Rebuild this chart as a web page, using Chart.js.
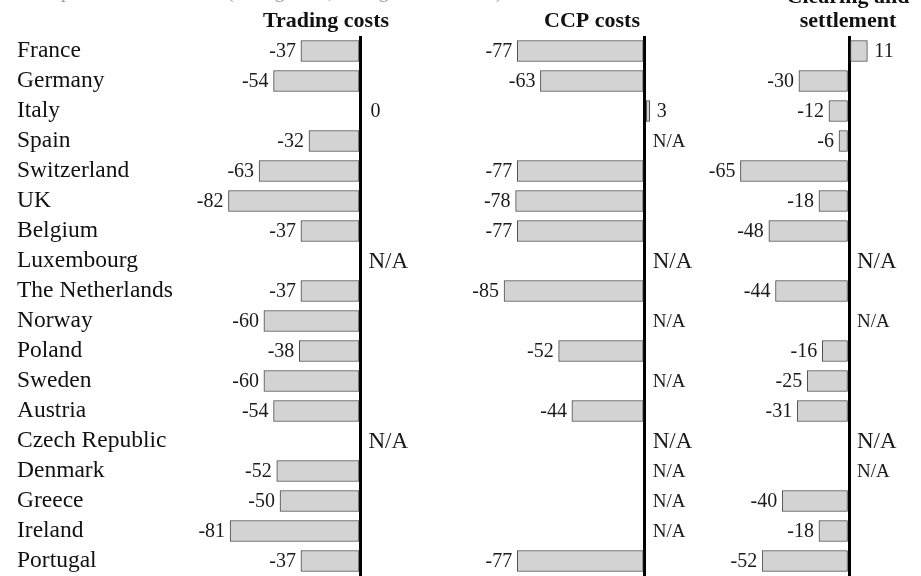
<!DOCTYPE html>
<html>
<head>
<meta charset="utf-8">
<script src="https://cdn.jsdelivr.net/npm/chart.js@4.4.1/dist/chart.umd.min.js"></script>
<style>
  html, body { margin: 0; padding: 0; background: #fff; }
  #page { position: relative; width: 921px; height: 576px; overflow: hidden; }
  .subtitle { position: absolute; left: 40px; top: -19px; font: 19px "Liberation Serif", serif; color: #9a9a9a; white-space: nowrap; }
  .panel { position: absolute; top: 0; height: 576px; }
</style>
</head>
<body>
<div id="page">
  <div class="subtitle">Expected cost reduction (average cost, average decline ratio)</div>
  <div class="panel" style="left:0;width:450px"><canvas id="tradingChart"></canvas></div>
  <div class="panel" style="left:450px;width:250px"><canvas id="ccpChart"></canvas></div>
  <div class="panel" style="left:690px;width:231px"><canvas id="clearingChart"></canvas></div>
</div>
<script>
const countries = ["France", "Germany", "Italy", "Spain", "Switzerland", "UK", "Belgium", "Luxembourg",
  "The Netherlands", "Norway", "Poland", "Sweden", "Austria", "Czech Republic", "Denmark", "Greece", "Ireland", "Portugal"];

// null = N/A
const tradingCosts = [-37, -54, 0, -32, -63, -82, -37, null, -37, -60, -38, -60, -54, null, -52, -50, -81, -37];
const ccpCosts = [-77, -63, 3, null, -77, -78, -77, null, -85, null, -52, null, -44, null, null, null, null, -77];
const clearingSettlement = [11, -30, -12, -6, -65, -18, -48, null, -44, null, -16, -25, -31, null, null, -40, -18, -52];

const panelTitles = [["Trading costs"], ["CCP costs"], ["Clearing and", "settlement"]];

const serif = '"Liberation Serif", "Times New Roman", serif';

// rows with no data at all get the bigger N/A
const allMissing = countries.map((_, i) =>
  [tradingCosts, ccpCosts, clearingSettlement].every(s => s[i] === null));

const barLabels = {
  id: "barLabels",
  afterDatasetsDraw(chart) {
    const ctx = chart.ctx;
    const zero = chart.scales.x.getPixelForValue(0);
    const data = chart.data.datasets[0].data;
    ctx.save();
    ctx.fillStyle = "#1a1a1a";
    ctx.textBaseline = "middle";
    data.forEach((v, i) => {
      const y = chart.scales.y.getPixelForValue(i) + 1;
      if (v === null) {
        ctx.font = (allMissing[i] ? 23 : 19) + "px " + serif;
        ctx.textAlign = "left";
        ctx.fillText("N/A", zero + 8, y);
        return;
      }
      const end = chart.scales.x.getPixelForValue(v);
      ctx.font = "20px " + serif;
      if (v < 0) {
        ctx.textAlign = "right";
        ctx.fillText(v, end - 5, y);
      } else {
        ctx.textAlign = "left";
        ctx.fillText(v, Math.max(end, zero + 3) + 7, y);
      }
    });
    ctx.restore();
  }
};

const panelHeader = {
  id: "panelHeader",
  afterDraw(chart, args, opts) {
    const ctx = chart.ctx;
    const cx = chart.scales.x.getPixelForValue(0) + opts.shift;
    ctx.save();
    ctx.font = "bold 22px " + serif;
    ctx.textAlign = "center";
    ctx.textBaseline = "alphabetic";
    ctx.fillStyle = "#111";
    opts.lines.forEach((t, k) => ctx.fillText(t, cx, 27 - (opts.lines.length - 1 - k) * 24));
    ctx.restore();
  }
};

function makeChart(id, values, p) {
  // p.zero = pixel of the zero line inside the canvas, p.px = pixels per unit
  const left = p.names ? 190 : 0;
  return new Chart(document.getElementById(id), {
    type: "bar",
    data: {
      labels: countries,
      datasets: [{
        data: values,
        backgroundColor: "#d3d3d3",
        borderColor: "#4a4a4a",
        borderWidth: 1,
        borderSkipped: false,
        barThickness: 21
      }]
    },
    options: {
      indexAxis: "y",
      responsive: true,
      maintainAspectRatio: false,
      animation: false,
      layout: { padding: { left: p.names ? 17 : 0, top: 36, right: 0, bottom: 0 } },
      plugins: {
        legend: { display: false },
        tooltip: { enabled: false },
        panelHeader: { lines: p.title, shift: p.shift }
      },
      scales: {
        x: {
          min: -(p.zero - left) / p.px,
          max: (p.width - p.zero) / p.px,
          z: 1,
          border: { display: false },
          grid: { color: "#000", lineWidth: 3, drawTicks: false },
          ticks: { display: false },
          afterBuildTicks: s => { s.ticks = [{ value: 0 }]; }
        },
        y: {
          display: p.names,
          grid: { display: false },
          border: { display: false },
          // negative padding cancels the half-label padding at the bottom
          ticks: { autoSkip: false, crossAlign: "far", color: "#111", padding: -15, font: { family: serif, size: 23.5 } },
          afterFit: s => { if (p.names) s.width = 173; }
        }
      }
    },
    plugins: [barLabels, panelHeader]
  });
}

makeChart("tradingChart", tradingCosts, { names: true, width: 450, zero: 360.5, px: 1.61, title: panelTitles[0], shift: -34.5 });
makeChart("ccpChart", ccpCosts, { names: false, width: 250, zero: 194.7, px: 1.655, title: panelTitles[1], shift: -52.7 });
makeChart("clearingChart", clearingSettlement, { names: false, width: 231, zero: 159, px: 1.67, title: panelTitles[2], shift: -1 });
</script>
</body>
</html>
